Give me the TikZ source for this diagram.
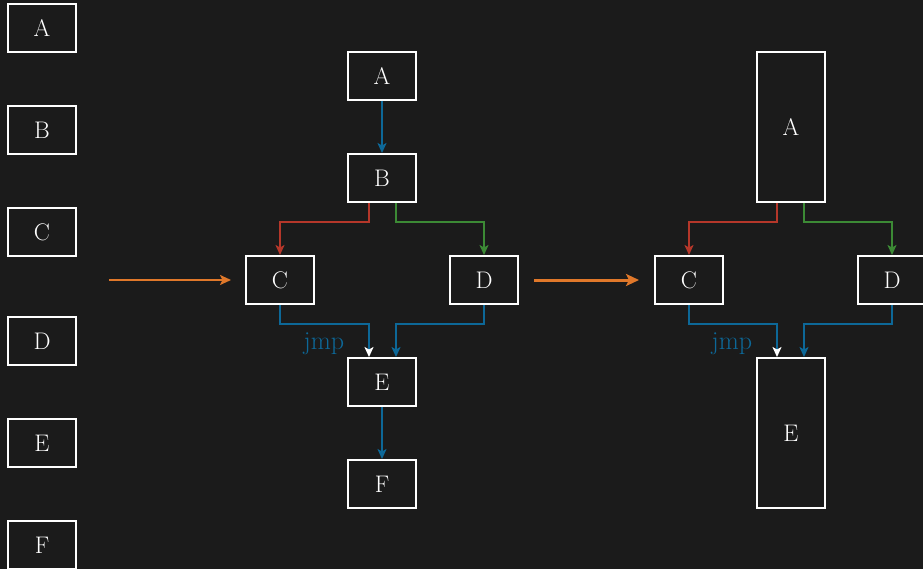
\documentclass[tikz,border=0pt]{standalone}
\usetikzlibrary{arrows.meta,calc}
\definecolor{bg}{HTML}{1B1B1B}
\definecolor{flowblue}{HTML}{0D6898}
\definecolor{flowred}{HTML}{B5372A}
\definecolor{flowgreen}{HTML}{3C8A35}
\definecolor{floworange}{HTML}{E0782A}
\begin{document}
\begin{tikzpicture}[x=1pt,y=-1pt,
  blk/.style={draw=white, line width=2pt, fill=bg, text=white,
    minimum width=68pt, minimum height=48pt, inner sep=0pt,
    font=\fontsize{24}{27}\selectfont},
  tall/.style={blk, minimum height=150pt},
  edge/.style={line width=1.8pt, -{Stealth[length=10pt,width=9pt,inset=2.5pt]}},
  jmphead/.style={line width=1.8pt, -{Stealth[length=10pt,width=9pt,inset=2.5pt,color=white]}},
  lbl/.style={text=flowblue, font=\fontsize{26}{28}\selectfont}]
\fill[bg] (0,0) rectangle (923,569);
\useasboundingbox (0,0) rectangle (923,569);

% block list
\node[blk] (la) at (42,28) {A};
\node[blk] (lb) at (42,130) {B};
\node[blk] (lc) at (42,232) {C};
\node[blk] (ld) at (42,341) {D};
\node[blk] (le) at (42,443) {E};
\node[blk] (lf) at (42,545) {F};

% control flow graph
\node[blk] (a) at (382,76) {A};
\node[blk] (b) at (382,178) {B};
\node[blk] (c) at (280,280) {C};
\node[blk] (d) at (484,280) {D};
\node[blk] (e) at (382,382) {E};
\node[blk] (f) at (382,484) {F};

\draw[edge, flowblue] (a) -- (b);
\draw[edge, flowred] ([xshift=-13pt]b.south) -- ++(0,19) -| (c.north);
\draw[edge, flowgreen] ([xshift=14pt]b.south) -- ++(0,19) -| (d.north);
\draw[jmphead, flowblue] (c.south) -- ++(0,19) -| ([xshift=-13pt]e.north);
\draw[edge, flowblue] (d.south) -- ++(0,19) -| ([xshift=14pt]e.north);
\draw[edge, flowblue] (e) -- (f);
\node[lbl] (j1) at (324,344) {jmp};

% merged graph
\node[tall] (a2) at (791,127) {A};
\node[blk] (c2) at (689,280) {C};
\node[blk] (d2) at (892,280) {D};
\node[tall] (e2) at (791,433) {E};

\draw[edge, flowred] ([xshift=-14pt]a2.south) -- ++(0,19) -| (c2.north);
\draw[edge, flowgreen] ([xshift=13pt]a2.south) -- ++(0,19) -| (d2.north);
\draw[jmphead, flowblue] (c2.south) -- ++(0,19) -| ([xshift=-14pt]e2.north);
\draw[edge, flowblue] (d2.south) -- ++(0,19) -| ([xshift=13pt]e2.north);
\node[lbl] (j2) at (732,344) {jmp};

% transformation arrows
\coordinate (s1) at (109,280);
\draw[floworange, line width=2pt, -{Stealth[length=11pt,width=10pt,inset=2.5pt]}] (s1) -- ([xshift=-14pt]c.west);
\draw[floworange, line width=3pt, -{Stealth[length=13pt,width=12pt,inset=3pt]}] ([xshift=15pt]d.east) -- ([xshift=-15pt]c2.west);
\end{tikzpicture}
\end{document}
